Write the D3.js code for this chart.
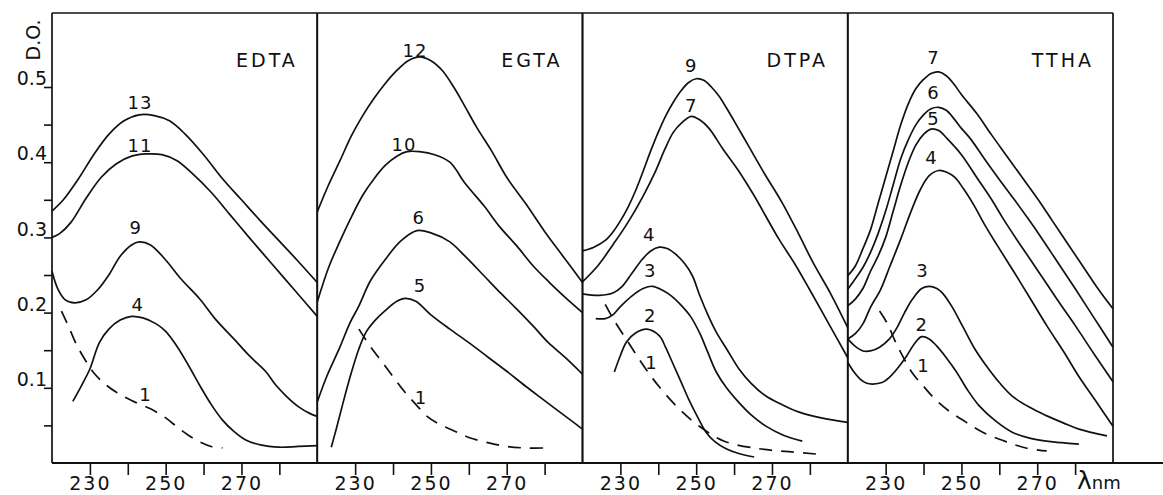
<!DOCTYPE html>
<html>
<head>
<meta charset="utf-8">
<script src="https://cdn.jsdelivr.net/npm/d3@7"></script>
<style>
  body { margin: 0; background: #fff; }
  svg { display: block; }
  text { font-family: "DejaVu Sans", sans-serif; fill: #111; }
</style>
</head>
<body>
<svg id="chart" width="1163" height="495"></svg>
<script>
// ---- data (wavelength nm, D.O.) ----
const panelNames = ["EDTA", "EGTA", "DTPA", "TTHA"];
const xTicks = [230, 240, 250, 260, 270, 280];
const xTickLabels = [230, 250, 270];
const yTicks = [0.05, 0.1, 0.15, 0.2, 0.25, 0.3, 0.35, 0.4, 0.45, 0.5];
const yTickLabels = [0.1, 0.2, 0.3, 0.4, 0.5];

// EDTA
const edta13 = [[220,0.335],[223,0.35],[227,0.378],[231,0.41],[235,0.437],[239,0.455],[243,0.463],[247,0.462],[251,0.455],[255,0.438],[260,0.41],[265,0.378],[270,0.35],[275,0.322],[280,0.295],[285,0.268],[290,0.24]];
const edta11 = [[220,0.3],[222,0.305],[225,0.32],[229,0.352],[233,0.38],[237,0.398],[241,0.408],[245,0.411],[249,0.41],[253,0.402],[257,0.385],[262,0.36],[267,0.33],[272,0.3],[278,0.265],[284,0.23],[290,0.195]];
const edta9 = [[220,0.255],[221.5,0.232],[223.5,0.217],[226,0.213],[229,0.217],[232,0.23],[235,0.25],[238,0.275],[241,0.29],[243,0.294],[246,0.29],[250,0.27],[254,0.245],[259,0.218],[263,0.192],[268,0.165],[272,0.143],[276.5,0.121],[279,0.104],[282,0.088],[285,0.075],[288,0.066],[290,0.062]];
const edta4 = [[225.5,0.082],[228,0.105],[230,0.125],[232.5,0.16],[235,0.178],[238,0.19],[241,0.195],[244,0.193],[247.5,0.185],[250,0.175],[253,0.155],[256,0.13],[259,0.103],[262,0.078],[265,0.057],[268,0.042],[271,0.031],[275,0.024],[280,0.021],[285,0.022],[290,0.023]];
const edta1 = [[222.5,0.202],[224.5,0.18],[226.5,0.157],[229,0.135],[231,0.12],[234,0.105],[237,0.094],[241,0.083],[246,0.072],[250,0.06],[253,0.048],[256,0.037],[259,0.028],[262,0.022],[265,0.02]];

// EGTA
const egta12 = [[220,0.334],[223,0.37],[226,0.402],[229,0.435],[232,0.462],[235,0.485],[238,0.505],[241,0.522],[244,0.535],[247,0.54],[250,0.535],[253,0.522],[256,0.5],[259,0.474],[262,0.447],[266,0.415],[270,0.38],[275,0.345],[280,0.308],[285,0.274],[290,0.24]];
const egta10 = [[220,0.214],[223,0.26],[226,0.295],[228.7,0.324],[232,0.356],[235,0.378],[238,0.396],[241,0.408],[243.7,0.414],[247,0.414],[251,0.41],[255,0.4],[259,0.372],[264,0.342],[268,0.315],[272.6,0.289],[277,0.262],[281.3,0.24],[285.5,0.22],[290,0.2]];
const egta6 = [[220,0.081],[222.5,0.115],[225.8,0.152],[228.7,0.187],[231,0.209],[234,0.242],[238,0.271],[242,0.295],[246.3,0.309],[250,0.306],[255,0.294],[259,0.275],[264,0.249],[268,0.228],[272.6,0.205],[277,0.182],[281,0.16],[285.5,0.14],[290,0.118]];
const egta5 = [[223.7,0.021],[225,0.045],[226.6,0.076],[228.7,0.115],[231,0.152],[233,0.175],[235.5,0.191],[238,0.203],[241,0.215],[243.2,0.219],[246,0.215],[250,0.197],[255,0.178],[260,0.16],[265,0.141],[270,0.122],[275,0.102],[280,0.083],[285,0.064],[290,0.045]];
const egta1 = [[231,0.178],[234,0.155],[237,0.135],[240,0.115],[243,0.095],[246,0.078],[249,0.062],[252,0.052],[256,0.043],[260,0.034],[265,0.027],[270,0.022],[275,0.02],[280.5,0.02]];

// DTPA
const dtpa9 = [[220,0.282],[223,0.287],[226,0.296],[228,0.307],[230,0.322],[232,0.34],[234,0.362],[236,0.388],[238,0.415],[240,0.44],[242,0.462],[244,0.48],[246,0.495],[248,0.506],[250,0.511],[252,0.509],[254,0.5],[256,0.488],[258,0.472],[260,0.455],[264,0.42],[268,0.385],[272.6,0.347],[277,0.305],[281,0.265],[285.5,0.225],[290,0.18]];
const dtpa7 = [[220,0.241],[224,0.262],[228,0.29],[232,0.32],[236,0.355],[239,0.385],[241.8,0.418],[244,0.44],[246.3,0.453],[248.7,0.461],[251,0.456],[253.4,0.445],[257,0.418],[261,0.39],[265,0.358],[271.8,0.298],[276,0.265],[280,0.23],[285,0.185],[290,0.14]];
const dtpa4 = [[220,0.225],[224.5,0.223],[228,0.226],[230.5,0.235],[233,0.252],[235.8,0.271],[238,0.282],[240.3,0.287],[242.5,0.285],[244.5,0.278],[247,0.265],[249,0.249],[251,0.222],[253,0.198],[255.3,0.174],[258,0.152],[261.3,0.125],[264.5,0.106],[268.4,0.089],[272.5,0.078],[277,0.068],[283,0.06],[290,0.054]];
const dtpa3 = [[223.5,0.192],[226,0.192],[228,0.197],[230,0.208],[233,0.222],[236,0.232],[238.5,0.235],[241,0.23],[243.5,0.222],[246,0.21],[248.5,0.195],[251,0.172],[253,0.148],[255.3,0.121],[258,0.1],[261,0.082],[264.5,0.064],[268.4,0.049],[273,0.037],[278,0.029]];
const dtpa2 = [[228.4,0.121],[230,0.143],[231.6,0.161],[234,0.173],[237,0.178],[240.3,0.169],[242,0.153],[243.7,0.134],[246,0.108],[248,0.085],[250.5,0.06],[252.6,0.041],[255,0.028],[257.9,0.019],[261,0.013],[265.3,0.008]];
const dtpa1 = [[226,0.211],[228.2,0.191],[232.4,0.158],[236.3,0.128],[240.3,0.101],[245.5,0.072],[250.8,0.049],[257.4,0.029],[266.6,0.019],[274.5,0.015],[281.6,0.012]];

// TTHA
const ttha7 = [[220,0.249],[222,0.262],[224,0.285],[226,0.31],[228,0.345],[230,0.38],[232,0.415],[234,0.45],[236,0.478],[238,0.498],[240,0.51],[242,0.518],[244,0.52],[246,0.515],[248,0.504],[250,0.49],[254,0.465],[258,0.436],[262,0.408],[266,0.38],[270,0.352],[274,0.322],[278,0.292],[282,0.262],[286,0.232],[290,0.205]];
const ttha6 = [[220,0.231],[222,0.245],[224,0.26],[226,0.28],[228,0.305],[230,0.335],[232,0.37],[234,0.405],[236,0.43],[238,0.45],[240,0.463],[242,0.471],[244,0.473],[246,0.469],[248,0.458],[250,0.445],[252.4,0.431],[256,0.405],[260,0.377],[264,0.35],[268,0.322],[271.3,0.298],[275,0.27],[280,0.232],[285,0.193],[290,0.154]];
const ttha5 = [[220,0.209],[222,0.218],[224,0.232],[226,0.255],[228,0.275],[230,0.3],[232,0.335],[234,0.37],[236,0.4],[238,0.423],[240,0.437],[242,0.444],[244,0.442],[246.3,0.431],[250,0.41],[254,0.38],[258,0.35],[261,0.325],[264.5,0.298],[268,0.272],[272,0.242],[276,0.212],[280,0.183],[285,0.145],[290,0.108]];
const ttha4 = [[220,0.165],[222,0.172],[224,0.185],[226,0.207],[228.7,0.231],[231,0.26],[234,0.298],[236.5,0.332],[239.2,0.364],[241.5,0.382],[244,0.389],[246,0.387],[248.2,0.38],[250.5,0.365],[253.4,0.342],[256,0.318],[259.5,0.289],[264,0.253],[268,0.22],[272.6,0.182],[277,0.148],[281,0.115],[285.5,0.082],[290,0.049]];
const ttha3 = [[220,0.165],[222,0.155],[224,0.149],[226,0.149],[228.4,0.154],[231,0.165],[233,0.18],[235,0.2],[237.1,0.218],[239.5,0.232],[241.6,0.235],[243.5,0.232],[245,0.226],[247.5,0.208],[250.3,0.182],[253.5,0.152],[256.6,0.129],[260,0.107],[263.4,0.089],[268,0.074],[272.4,0.063],[277,0.053],[281,0.045],[288.4,0.036]];
const ttha2 = [[220,0.134],[221.5,0.122],[223.2,0.112],[225,0.106],[226.6,0.105],[229,0.107],[231,0.114],[233,0.125],[235.5,0.142],[237.5,0.158],[239.5,0.168],[241.5,0.165],[243.4,0.156],[246,0.14],[248.7,0.121],[251.5,0.098],[254.7,0.076],[259,0.056],[263.4,0.041],[268,0.033],[272.4,0.029],[276.5,0.027],[281,0.025]];
const ttha1 = [[228.4,0.202],[230.5,0.185],[232.5,0.162],[234.5,0.142],[237,0.12],[240,0.102],[243,0.085],[247,0.068],[251,0.055],[256,0.04],[262,0.028],[267,0.02],[272.5,0.016]];

// curve id, points, dashed?, label anchor [nm, D.O.]
const edtaCurves = [
  {id: "13", pts: edta13, label: [243.2, 0.471]},
  {id: "11", pts: edta11, label: [243.2, 0.414]},
  {id: "9",  pts: edta9,  label: [242.1, 0.305]},
  {id: "4",  pts: edta4,  label: [242.6, 0.202]},
  {id: "1",  pts: edta1,  label: [244.7, 0.082], dashed: true}
];
const egtaCurves = [
  {id: "12", pts: egta12, label: [245.8, 0.54]},
  {id: "10", pts: egta10, label: [242.9, 0.415]},
  {id: "6",  pts: egta6,  label: [246.8, 0.318]},
  {id: "5",  pts: egta5,  label: [247.1, 0.227]},
  {id: "1",  pts: egta1,  label: [247.4, 0.078], dashed: true}
];
const dtpaCurves = [
  {id: "9", pts: dtpa9, label: [248.7, 0.52]},
  {id: "7", pts: dtpa7, label: [248.7, 0.467]},
  {id: "4", pts: dtpa4, label: [237.6, 0.295]},
  {id: "3", pts: dtpa3, label: [237.9, 0.247]},
  {id: "2", pts: dtpa2, label: [237.9, 0.188]},
  {id: "1", pts: dtpa1, label: [238.2, 0.125], dashed: true}
];
const tthaCurves = [
  {id: "7", pts: ttha7, label: [242.6, 0.531]},
  {id: "6", pts: ttha6, label: [242.6, 0.484]},
  {id: "5", pts: ttha5, label: [242.6, 0.449]},
  {id: "4", pts: ttha4, label: [242.1, 0.398]},
  {id: "3", pts: ttha3, label: [239.7, 0.247]},
  {id: "2", pts: ttha2, label: [239.5, 0.176]},
  {id: "1", pts: ttha1, label: [240.0, 0.121], dashed: true}
];
const allCurves = [edtaCurves, egtaCurves, dtpaCurves, tthaCurves];

// ---- layout ----
const frameLeft = 52, frameTop = 13, panelW = 265.25;
const y = d3.scaleLinear().domain([0, 0.5]).range([463, 87]);
const svg = d3.select("#chart");
const ink = "#111";

// frame: top line
svg.append("line")
  .attr("x1", frameLeft).attr("x2", frameLeft + 4 * panelW)
  .attr("y1", frameTop).attr("y2", frameTop)
  .attr("stroke", ink).attr("stroke-width", 1.6);

// bottom line, longer than the frame
svg.append("line")
  .attr("x1", frameLeft).attr("x2", 1163)
  .attr("y1", y(0)).attr("y2", y(0))
  .attr("stroke", ink).attr("stroke-width", 1.8);

// y axis
const yAxis = d3.axisLeft(y)
  .tickValues(yTicks)
  .tickSize(8)
  .tickFormat(d => yTickLabels.some(v => Math.abs(v - d) < 1e-9) ? d3.format(".1f")(d) : "");
const gy = svg.append("g").attr("transform", `translate(${frameLeft},0)`).call(yAxis);
gy.select(".domain").remove();
gy.selectAll(".tick line").attr("stroke", ink).attr("stroke-width", 1.6);
gy.selectAll(".tick text")
  .attr("x", -5).attr("dy", "-0.12em")
  .style("font-size", "19px").style("font-family", "DejaVu Sans").style("fill", ink);

svg.append("text")
  .attr("transform", "translate(40,40) rotate(-90)")
  .attr("text-anchor", "middle")
  .style("font-size", "19px")
  .text("D.O.");

const line = d3.line().curve(d3.curveCatmullRom.alpha(0.5));

panelNames.forEach((name, i) => {
  const x0 = frameLeft + i * panelW;
  const x = d3.scaleLinear().domain([220, 290]).range([x0, x0 + panelW]);

  // dividers at left and right
  [x0, x0 + panelW].forEach(px => {
    svg.append("line")
      .attr("x1", px).attr("x2", px)
      .attr("y1", frameTop).attr("y2", y(0))
      .attr("stroke", ink).attr("stroke-width", 1.7);
  });

  // x axis ticks
  const xAxis = d3.axisBottom(x)
    .tickValues(xTicks)
    .tickSize(12)
    .tickFormat(d => xTickLabels.includes(d) ? d : "");
  const gx = svg.append("g").attr("transform", `translate(0,${y(0)})`).call(xAxis);
  gx.select(".domain").remove();
  gx.selectAll(".tick line").attr("stroke", ink).attr("stroke-width", 1.6);
  gx.selectAll(".tick text")
    .attr("y", 14)
    .style("font-size", "19px").style("font-family", "DejaVu Sans")
    .style("letter-spacing", "2px").style("fill", ink);

  // panel title
  svg.append("text")
    .attr("x", x0 + 184).attr("y", 67)
    .style("font-size", "19px").style("letter-spacing", "3px")
    .text(name);

  const g = svg.append("g");
  allCurves[i].forEach(c => {
    g.append("path")
      .attr("d", line(c.pts.map(p => [x(p[0]), y(p[1])])))
      .attr("fill", "none")
      .attr("stroke", ink)
      .attr("stroke-width", 1.7)
      .attr("stroke-dasharray", c.dashed ? "13,9" : null);
    g.append("text")
      .attr("x", x(c.label[0])).attr("y", y(c.label[1]))
      .attr("text-anchor", "middle")
      .style("font-size", "18px").style("letter-spacing", "1px")
      .text(c.id);
  });
});

// lambda nm unit
const unit = svg.append("text").attr("x", 1077).attr("y", 489);
unit.append("tspan").style("font-size", "25px").text("λ");
unit.append("tspan").style("font-size", "18px").text("nm");
</script>
</body>
</html>
